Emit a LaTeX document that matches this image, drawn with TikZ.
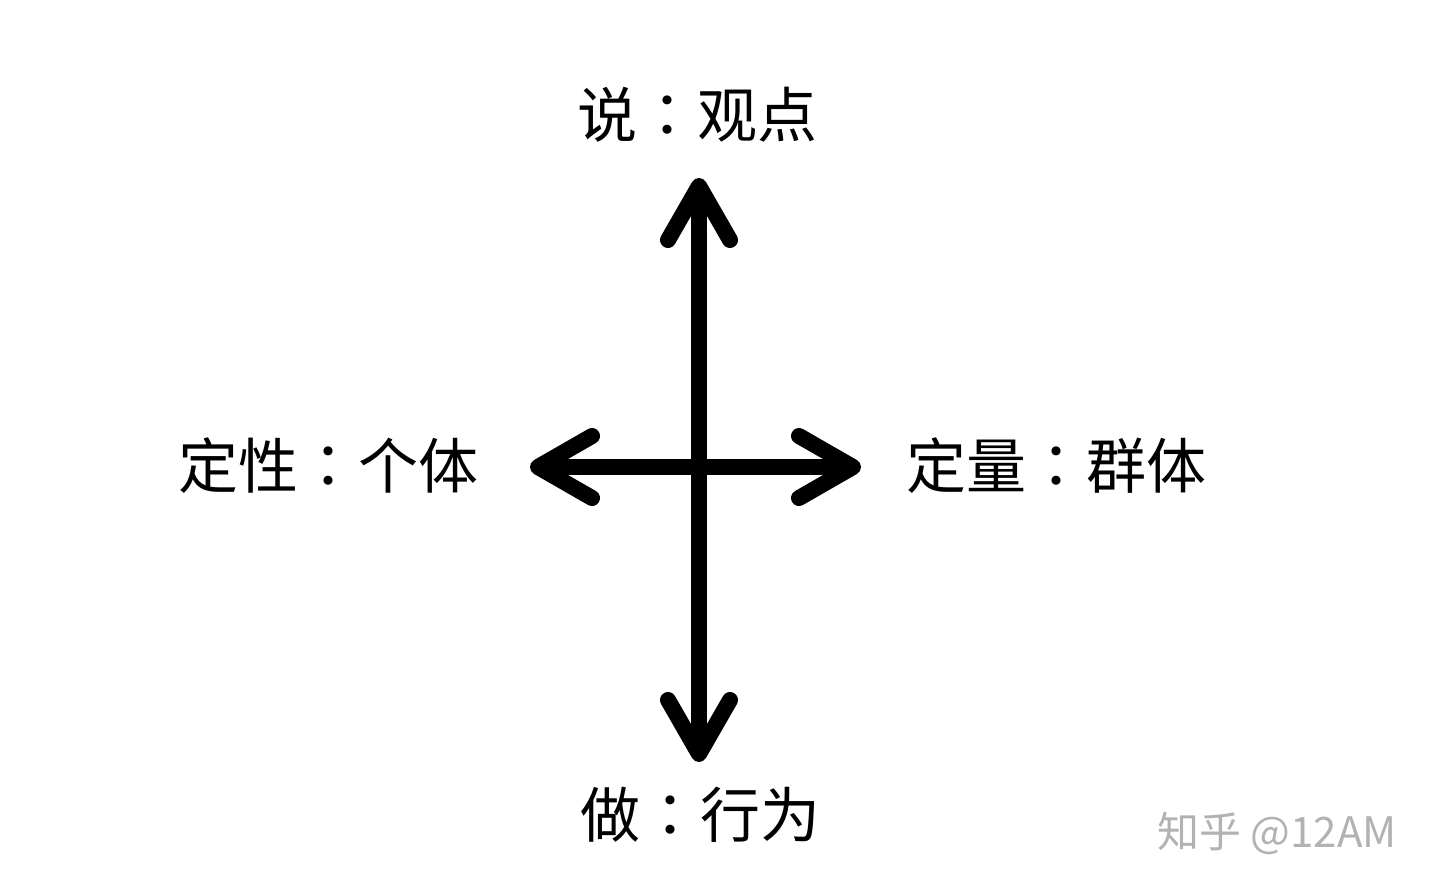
\documentclass[tikz,border=0pt]{standalone}
\usepackage{fontspec}
\newfontfamily\cjk{Noto Sans CJK TC}
\newfontfamily\cjksc{Noto Sans CJK SC}
\usetikzlibrary{arrows.meta}
\begin{document}
\begin{tikzpicture}[x=0.5pt,y=-0.5pt,
  every node/.style={font=\cjk\fontsize{30}{36}\selectfont,inner sep=0pt},
  axis/.style={line width=8pt,
    {Straight Barb[length=27pt,width=31pt,round]}-{Straight Barb[length=27pt,width=31pt,round]}}]
\useasboundingbox (0,0) rectangle (1440,894);
% ends of the two axes
\coordinate (up) at (699,178);
\coordinate (down) at (699,762);
\coordinate (left) at (530,467);
\coordinate (right) at (861,467);
\draw[axis] (up) -- (down);
\draw[axis] (left) -- (right);
% labels
\node (say) at (697,115) {说：观点};
\node (do) at (700,815) {做：行为};
\node (quali) at (328,466) {定性：个体};
\node (quant) at (1056,466) {定量：群体};
\node[font=\cjksc\fontsize{21}{25}\selectfont,text=black!30] (mark) at (1277,833) {知乎 @12AM};
\end{tikzpicture}
\end{document}
